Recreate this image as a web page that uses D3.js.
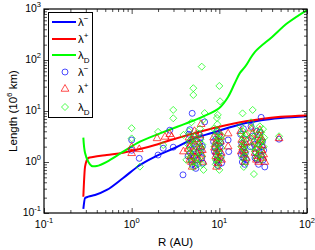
<!DOCTYPE html>
<html>
<head>
<meta charset="utf-8">
<script src="https://cdn.jsdelivr.net/npm/d3@7"></script>
<style>
  html, body { margin: 0; padding: 0; background: #fff; }
  svg { display: block; font-family: "Liberation Sans", Arial, sans-serif; }
</style>
</head>
<body>
<svg id="chart" width="315" height="250"></svg>
<script>
// Model curves: R (AU) and length (10^6 km)
const curveMinusR = [0.281, 0.294, 0.32, 0.382, 0.52, 0.80, 1.245, 1.85, 3.1, 5.3, 8.2, 10.7, 15, 20, 30, 50, 100];
const curveMinusV = [0.12, 0.197, 0.209, 0.225, 0.283, 0.486, 0.873, 1.27, 1.88, 2.96, 3.7, 4.3, 5.1, 5.8, 6.6, 7.3, 7.9];

const curvePlusR = [0.281, 0.294, 0.32, 0.362, 0.52, 0.80, 1.245, 1.85, 3, 5, 10, 20, 30, 50, 100];
const curvePlusV = [0.209, 0.81, 1.2, 1.25, 1.37, 1.52, 1.8, 2.15, 2.8, 3.6, 4.9, 6.3, 7.0, 7.7, 8.2];

const curveDR = [0.281, 0.294, 0.32, 0.35, 0.40, 0.52, 0.80, 1.245, 2.6, 4.05, 6.3, 10, 12.6, 15, 17.2, 19.6, 25.5, 40, 60, 100];
const curveDV = [3.0, 1.5, 1.01, 0.835, 0.835, 1.01, 1.59, 2.5, 4.2, 5.6, 7.6, 11.5, 19, 35, 56, 73, 144, 283, 530, 955];

// Observed values [R, length]
const obsMinus = [
  [1.0, 2.7], [1.0, 1.7], [1.22, 1.18], [2.0, 1.37], [2.29, 1.86], [2.72, 4.2], [2.98, 1.95], [3.85, 0.56],
  [4.5, 3.5], [4.6, 2.2], [4.7, 1.5], [4.8, 1.1], [4.9, 0.9], [5.0, 2.8], [5.1, 1.8], [4.9, 9.0],
  [5.2, 1.3], [5.3, 0.85], [6.0, 2.4], [6.2, 1.6], [6.3, 1.2], [6.5, 0.95], [6.8, 6.1], [6.1, 3.0],
  [4.4, 1.3], [5.5, 2.0], [5.6, 1.1], [5.8, 1.5], [5.9, 3.5], [4.6, 4.3], [5.4, 0.75], [6.4, 2.0],
  [8.6, 2.5], [9.0, 1.9], [9.2, 1.4], [9.5, 1.1], [9.7, 0.85], [9.9, 3.3], [10.2, 2.0], [10.5, 1.3], [9.4, 4.0],
  [8.8, 1.6], [9.1, 2.8], [9.3, 1.0], [10.0, 1.6], [10.4, 2.4], [10.6, 0.95], [9.8, 2.2],
  [12.6, 2.7], [12.8, 1.6],
  [17.5, 3.5], [18, 2.3], [18.5, 1.6], [19, 1.2], [19.5, 0.9], [20, 2.8], [18.8, 4.5],
  [17.8, 1.4], [18.3, 1.0], [19.2, 2.0], [19.8, 1.5], [20.3, 1.1],
  [23, 5.0], [24, 3.2], [25, 2.2], [26, 1.5], [27, 1.1], [28, 0.9], [29, 3.8], [30, 7.5],
  [31, 2.5], [32, 1.7], [33, 0.8], [30, 1.3],
  [22.5, 2.0], [25.5, 1.2], [27.5, 2.7], [28.5, 1.6], [30.5, 2.0], [31.5, 1.1], [26.5, 4.0],
  [48, 2.8]
];
const obsPlus = [
  [1.0, 1.95], [1.0, 1.48], [1.22, 1.77], [1.95, 2.9], [2.4, 3.1], [2.86, 3.1], [2.72, 3.5], [3.9, 1.6],
  [4.5, 3.0], [4.6, 2.0], [4.7, 1.3], [4.8, 1.0], [5.0, 2.5], [5.1, 1.6], [5.2, 4.0], [5.3, 1.2],
  [6.0, 3.3], [6.1, 2.0], [6.3, 1.4], [6.5, 1.0], [6.2, 5.5], [4.9, 0.8],
  [4.4, 1.8], [5.5, 2.8], [5.6, 1.5], [5.8, 1.1], [5.9, 2.2], [4.6, 1.1], [5.4, 3.4], [6.4, 1.7], [4.8, 2.6],
  [8.6, 3.0], [9.0, 2.2], [9.2, 1.6], [9.5, 1.2], [9.7, 0.95], [10.0, 3.8], [10.3, 2.5], [10.5, 1.5], [9.3, 0.8],
  [8.8, 1.9], [9.1, 1.3], [9.3, 2.6], [10.0, 1.2], [10.4, 3.1], [10.6, 1.1], [9.8, 1.8],
  [12.6, 3.6], [12.6, 2.0],
  [17.5, 4.0], [18, 2.7], [18.5, 1.9], [19, 1.4], [19.5, 1.0], [20, 3.3],
  [17.8, 1.6], [18.3, 2.2], [19.2, 1.7], [19.8, 2.4], [20.3, 1.2],
  [23, 4.5], [24, 3.6], [25, 2.6], [26, 1.8], [27, 1.3], [28, 1.0], [29, 4.2], [30, 3.0],
  [31, 2.1], [32, 1.4], [33, 1.0],
  [22.5, 2.4], [25.5, 1.5], [27.5, 2.2], [28.5, 3.3], [30.5, 1.7], [31.5, 1.2], [26.5, 1.1], [29.5, 2.7],
  [48, 2.9]
];
const obsD = [
  [1.0, 4.6], [1.0, 2.9], [1.24, 0.81], [2.98, 10.5], [2.98, 7.2], [2.0, 3.9], [2.29, 2.15], [4.2, 1.1], [3.9, 3.4],
  [5.05, 28], [5.05, 20.6], [6.3, 74], [6.5, 6.7], [4.8, 6.0], [6.8, 9.1], [4.5, 4.0], [4.6, 2.6], [4.7, 1.8],
  [4.8, 1.3], [4.9, 1.0], [5.0, 0.8], [5.1, 3.2], [5.2, 2.2], [6.0, 4.5], [6.1, 2.8], [6.2, 1.9],
  [6.3, 1.3], [6.4, 0.9], [6.6, 0.7], [5.3, 1.5],
  [4.4, 2.2], [5.5, 2.4], [5.6, 1.2], [5.8, 3.6], [5.9, 1.6], [4.6, 1.5], [5.4, 1.0], [6.4, 2.2], [5.7, 0.9], [4.9, 2.9],
  [10, 31], [10.2, 15.5], [9.6, 8.4], [9.4, 7.3], [8.6, 4.5], [9.0, 3.3], [9.2, 2.3], [9.4, 1.7], [9.6, 1.3],
  [9.8, 1.0], [10.0, 0.7], [10.3, 2.8], [10.5, 1.9], [9.5, 5.5],
  [8.8, 2.0], [9.1, 1.1], [9.3, 4.0], [10.0, 2.4], [10.4, 1.2], [10.6, 3.3], [9.8, 1.5], [9.7, 2.9], [9.1, 0.9],
  [18.4, 9.0], [17.5, 5.0], [18, 3.5], [18.5, 2.5], [19, 1.8], [19.5, 1.3], [20, 1.0], [19, 0.8], [18.8, 3.0],
  [17.8, 2.0], [18.3, 1.2], [19.2, 2.2], [19.8, 1.6], [20.3, 3.5], [18.6, 4.0],
  [24, 10.5], [23, 6.0], [24, 4.5], [25, 3.2], [26, 2.4], [27, 1.8], [28, 1.4], [29, 5.0],
  [30, 3.8], [31, 2.7], [32, 2.0], [24.8, 0.58], [30, 1.1],
  [22.5, 3.0], [25.5, 1.6], [27.5, 3.5], [28.5, 2.2], [30.5, 1.4], [31.5, 4.4], [26.5, 1.2], [29.5, 2.4], [32.5, 3.0], [23.5, 2.0],
  [48, 3.2]
];

// Tick values
const xMajor = [0.1, 1, 10, 100];
const yMajor = [0.1, 1, 10, 100, 1000];
const xExp = ["-1", "0", "1", "2"];
const yExp = ["-1", "0", "1", "2", "3"];

const blue = "#0000ff", red = "#ff0000", green = "#00ff00";

const svg = d3.select("#chart");
const mLeft = 44, mRight = 307, mTop = 9, mBottom = 213;

const x = d3.scaleLog().domain([0.1, 100]).range([mLeft, mRight]);
const y = d3.scaleLog().domain([0.1, 1000]).range([mBottom, mTop]);

// minor ticks 2..9 for every decade
const minorOf = (dom) => {
  const out = [];
  for (let e = Math.round(Math.log10(dom[0])); e < Math.round(Math.log10(dom[1])); e++)
    for (let k = 2; k <= 9; k++) out.push(k * Math.pow(10, e));
  return out;
};
const xMinor = minorOf(x.domain());
const yMinor = minorOf(y.domain());

// clip for plotted data
svg.append("clipPath").attr("id", "clip")
  .append("rect").attr("x", mLeft).attr("y", mTop)
  .attr("width", mRight - mLeft).attr("height", mBottom - mTop);

const plot = svg.append("g").attr("clip-path", "url(#clip)");

const curves = [
  { r: curveMinusR, v: curveMinusV, c: blue, k: d3.curveMonotoneX },
  { r: curvePlusR, v: curvePlusV, c: red, k: d3.curveMonotoneX },
  { r: curveDR, v: curveDV, c: green, k: d3.curveCatmullRom.alpha(0.5) }
];

plot.selectAll(".curve")
  .data(curves)
  .join("path")
    .attr("class", "curve")
    .attr("fill", "none")
    .attr("stroke", d => d.c)
    .attr("stroke-width", 2)
    .attr("d", d => d3.line()
      .x(p => x(p[0]))
      .y(p => y(p[1]))
      .curve(d.k)(d.r.map((r, i) => [r, d.v[i]])));

// marker shapes
const circleSym = d3.symbol().type(d3.symbolCircle).size(28);
const triSym = d3.symbol().type(d3.symbolTriangle).size(26);
const diamond = (s) => `M0,${-s}L${s},0L0,${s}L${-s},0Z`;

plot.append("g").selectAll("path")
  .data(obsMinus)
  .join("path")
    .attr("d", circleSym())
    .attr("transform", d => `translate(${x(d[0])},${y(d[1])})`)
    .attr("fill", "none").attr("stroke", blue).attr("stroke-width", 0.7);

plot.append("g").selectAll("path")
  .data(obsPlus)
  .join("path")
    .attr("d", triSym())
    .attr("transform", d => `translate(${x(d[0])},${y(d[1])})`)
    .attr("fill", "none").attr("stroke", red).attr("stroke-width", 0.7);

plot.append("g").selectAll("path")
  .data(obsD)
  .join("path")
    .attr("d", diamond(3.5))
    .attr("transform", d => `translate(${x(d[0])},${y(d[1])})`)
    .attr("fill", "none").attr("stroke", green).attr("stroke-width", 0.7);

// axes, inward ticks on all four sides
const drawAxis = (axisFn, scale, ticks, size, transform) => {
  svg.append("g")
    .attr("transform", transform)
    .call(axisFn(scale).tickValues(ticks).tickSize(size).tickFormat(""))
    .call(g => g.select(".domain").remove())
    .call(g => g.selectAll("line").attr("stroke", "#000").attr("stroke-width", 0.7));
};

drawAxis(d3.axisBottom, x, xMajor, -5, `translate(0,${mBottom})`);
drawAxis(d3.axisBottom, x, xMinor, -3, `translate(0,${mBottom})`);
drawAxis(d3.axisTop, x, xMajor, -5, `translate(0,${mTop})`);
drawAxis(d3.axisTop, x, xMinor, -3, `translate(0,${mTop})`);
drawAxis(d3.axisLeft, y, yMajor, -5, `translate(${mLeft},0)`);
drawAxis(d3.axisLeft, y, yMinor, -3, `translate(${mLeft},0)`);
drawAxis(d3.axisRight, y, yMajor, -5, `translate(${mRight},0)`);
drawAxis(d3.axisRight, y, yMinor, -3, `translate(${mRight},0)`);

svg.append("rect")
  .attr("x", mLeft).attr("y", mTop)
  .attr("width", mRight - mLeft).attr("height", mBottom - mTop)
  .attr("fill", "none").attr("stroke", "#000").attr("stroke-width", 1.2);

// tick labels as 10 with superscript exponent
const xl = svg.append("g").attr("font-size", 10.5).attr("text-anchor", "middle");
xMajor.forEach((v, i) => {
  const t = xl.append("text").attr("x", x(v)).attr("y", mBottom + 15);
  t.append("tspan").text("10");
  t.append("tspan").attr("dy", -5).attr("font-size", 7.5).text(xExp[i]);
});

const yl = svg.append("g").attr("font-size", 10.5).attr("text-anchor", "end");
yMajor.forEach((v, i) => {
  const t = yl.append("text").attr("x", mLeft - 3).attr("y", y(v) + 3);
  t.append("tspan").text("10");
  t.append("tspan").attr("dy", -5).attr("font-size", 7.5).text(yExp[i]);
});

// axis titles
svg.append("text")
  .attr("x", (mLeft + mRight) / 2).attr("y", 246)
  .attr("text-anchor", "middle").attr("font-size", 11.5)
  .text("R (AU)");

const yt = svg.append("text")
  .attr("transform", `translate(17,${(mTop + mBottom) / 2}) rotate(-90)`)
  .attr("text-anchor", "middle").attr("font-size", 11.5);
yt.append("tspan").text("Length (10");
yt.append("tspan").attr("dy", -5).attr("font-size", 8).text("6");
yt.append("tspan").attr("dy", 5).text(" km)");

// legend
const legendItems = [
  { kind: "line", c: blue, sup: "\u2212" },
  { kind: "line", c: red, sup: "+" },
  { kind: "line", c: green, sub: "D" },
  { kind: "circle", c: blue, sup: "\u2212" },
  { kind: "tri", c: red, sup: "+" },
  { kind: "diamond", c: green, sub: "D" }
];
const legendY = [22, 39, 55, 72, 89, 107];

const lg = svg.append("g");
lg.append("rect")
  .attr("x", 48.5).attr("y", 12.5).attr("width", 44).attr("height", 105)
  .attr("fill", "#fff").attr("stroke", "#000").attr("stroke-width", 1);

legendItems.forEach((d, i) => {
  const ly = legendY[i];
  if (d.kind === "line") {
    lg.append("line").attr("x1", 52).attr("x2", 76).attr("y1", ly).attr("y2", ly)
      .attr("stroke", d.c).attr("stroke-width", 2);
  } else {
    const sh = d.kind === "circle" ? circleSym() : d.kind === "tri" ? triSym() : diamond(3.5);
    lg.append("path").attr("d", sh).attr("transform", `translate(65,${ly})`)
      .attr("fill", "none").attr("stroke", d.c).attr("stroke-width", 0.7);
  }
  const t = lg.append("text").attr("x", 78).attr("y", ly + 4).attr("font-size", 11.5);
  t.append("tspan").text("\u03bb");
  if (d.sup) t.append("tspan").attr("dy", -5).attr("font-size", 8).text(d.sup);
  if (d.sub) t.append("tspan").attr("dy", 4).attr("font-size", 8).text(d.sub);
});
</script>
</body>
</html>
